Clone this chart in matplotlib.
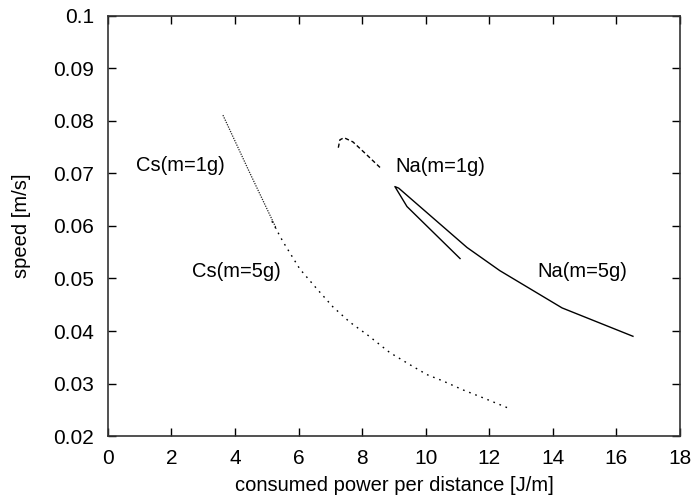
import matplotlib
matplotlib.use("Agg")
import matplotlib.pyplot as plt

plt.rcParams['font.family'] = ['Liberation Sans', 'DejaVu Sans']

# Cs, m=1g
cs1_x = [3.62, 4.45, 5.30]
cs1_y = [0.0811, 0.0703, 0.0595]

# Cs, m=5g
cs5_x = [5.16, 5.51, 6.04, 6.58, 7.08, 7.61, 8.18, 8.87, 9.50, 10.04, 10.54, 11.17, 11.80, 12.65]
cs5_y = [0.0609, 0.0570, 0.0518, 0.0480, 0.0446, 0.0417, 0.0392, 0.0359, 0.0336, 0.0317, 0.0305, 0.0288, 0.0273, 0.0252]

# Na, m=1g
na1_x = [7.25, 7.30, 7.43, 7.71, 8.10, 8.62]
na1_y = [0.0749, 0.0764, 0.0768, 0.0760, 0.0738, 0.0708]

# Na, m=5g
na5_x = [11.08, 9.41, 9.03, 9.15, 11.30, 12.33, 14.29, 16.52]
na5_y = [0.0538, 0.0637, 0.0675, 0.0672, 0.0559, 0.0515, 0.0444, 0.0390]

labels = ['Cs(m=1g)', 'Cs(m=5g)', 'Na(m=1g)', 'Na(m=5g)']
label_x = [0.9, 2.65, 9.05, 13.5]
label_y = [0.0716, 0.0513, 0.0714, 0.0513]

fig = plt.figure(figsize=(6.96, 4.95), dpi=100)
ax = fig.add_axes([0.155, 0.119, 0.822, 0.849])

ax.plot(cs1_x, cs1_y, color='#222222', lw=0.9, linestyle=(0, (1, 1)))
ax.plot(cs5_x, cs5_y, color='black', lw=1.0, linestyle=(0, (1.2, 3.5)))
ax.plot(na1_x, na1_y, color='black', lw=1.0, linestyle=(0, (3, 2)))
ax.plot(na5_x, na5_y, color='black', lw=1.0)

for t, x, y in zip(labels, label_x, label_y):
    ax.text(x, y, t, fontsize=14.5, ha='left', va='center')

ax.set_xlim(0, 18)
ax.set_ylim(0.02, 0.1)
ax.set_xticks(range(0, 19, 2))
ax.set_yticks([0.02, 0.03, 0.04, 0.05, 0.06, 0.07, 0.08, 0.09, 0.1])
ax.set_yticklabels(['0.02', '0.03', '0.04', '0.05', '0.06', '0.07', '0.08', '0.09', '0.1'])
ax.tick_params(direction='in', length=6, width=1, top=True, right=True,
               labelsize=15)
ax.tick_params(axis='x', pad=9)
ax.tick_params(axis='y', pad=10)
for s in ax.spines.values():
    s.set_linewidth(1.2)
    s.set_color('#333333')

ax.set_xlabel('consumed power per distance [J/m]', fontsize=14.5, labelpad=6)
ax.set_ylabel('speed [m/s]', fontsize=14.5, labelpad=16)

fig.savefig('out.png', dpi=100)
